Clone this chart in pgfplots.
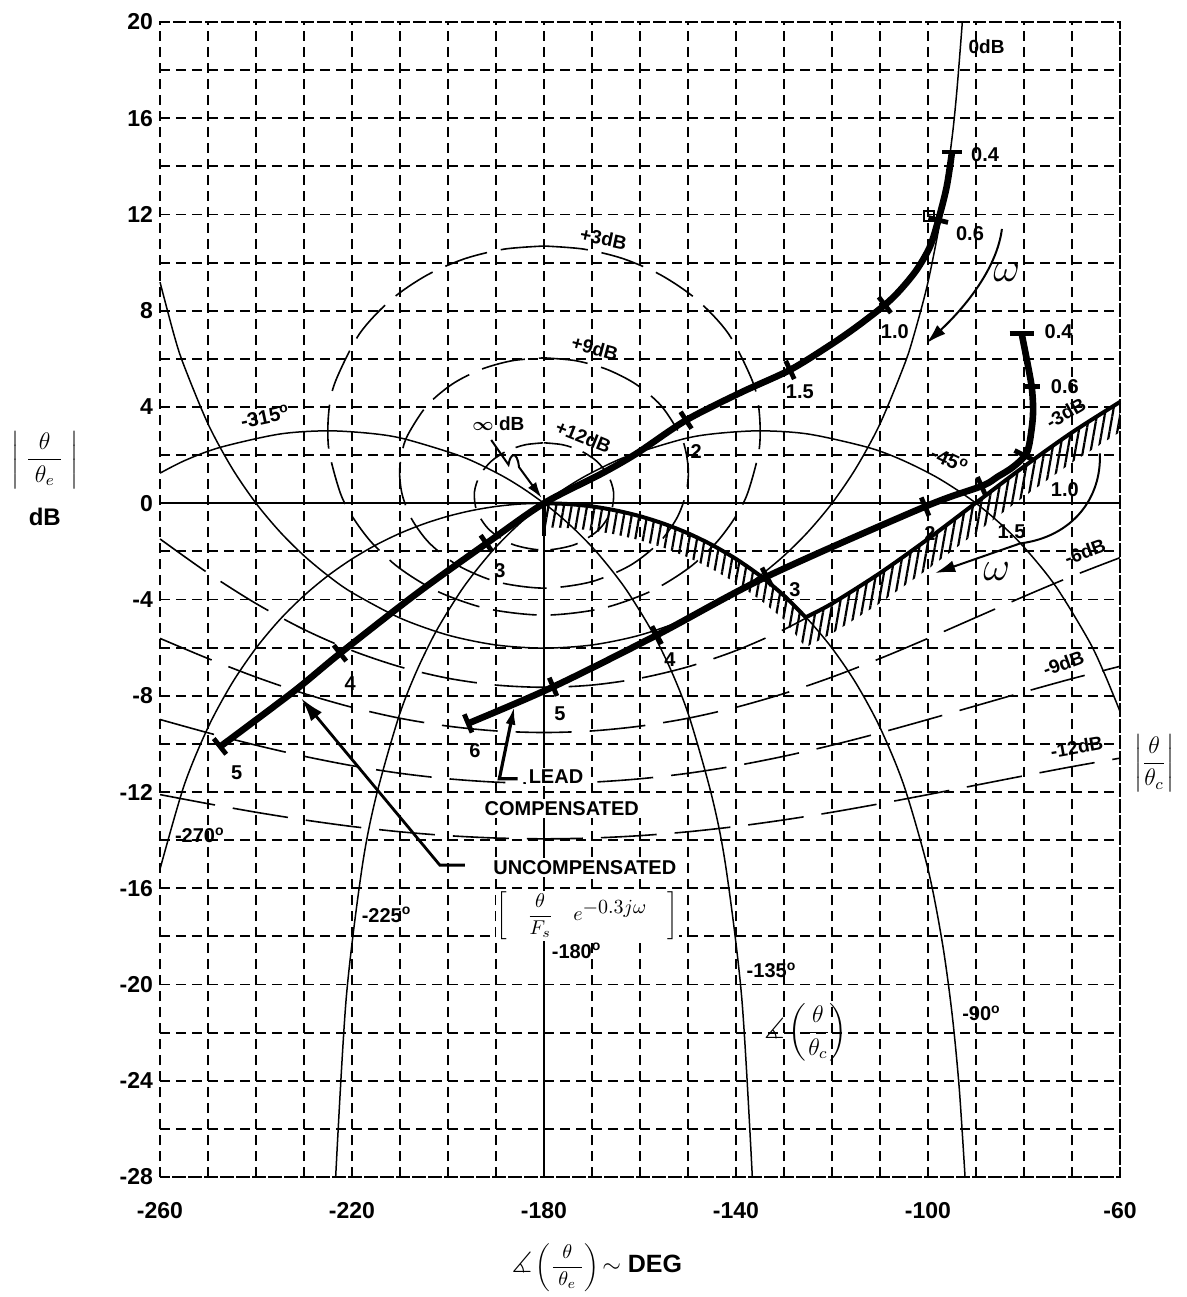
\documentclass[border=0pt]{standalone}
\usepackage{amsmath,amssymb}
\usepackage{fontspec}
\setmainfont{Liberation Sans}
\usepackage{pgfplots}
\pgfplotsset{compat=1.18}
\usetikzlibrary{patterns.meta,arrows.meta}
\tikzset{
  thincont/.style={black, line width=0.75pt, smooth},
  mcont/.style={black, line width=0.8pt, smooth, dash pattern=on 22pt off 7pt},
  thickcurve/.style={black, line width=3.3pt, smooth, line join=round},
  tickmark/.style={black, line width=2.4pt},
  lbl/.style={font=\fontsize{9.5}{11}\selectfont\bfseries, inner sep=1pt},
  flbl/.style={font=\fontsize{10}{12}\selectfont\bfseries, inner sep=1pt},
  blbl/.style={font=\fontsize{10}{12}\selectfont\bfseries, fill=white, inner sep=1.2pt},
}
\begin{document}
\begin{tikzpicture}
\path[use as bounding box] (-80pt,-60pt) rectangle (513.5pt,588.5pt);
\begin{axis}[
  at={(0pt,0pt)}, anchor=south west,
  scale only axis, width=480pt, height=577.5pt,
  xmin=-260, xmax=-60, ymin=-28, ymax=20,
  clip=false,
  xtick={-260,-220,-180,-140,-100,-60},
  xticklabels={-260,-220,-180,-140,-100,-60},
  ytick={-28,-24,-20,-16,-12,-8,-4,0,4,8,12,16,20},
  yticklabels={-28,-24,-20,-16,-12,-8,-4,0,4,8,12,16,20},
  minor xtick={-250,-240,-230,-210,-200,-190,-170,-160,-150,-130,-120,-110,-90,-80,-70},
  minor ytick={-26,-22,-18,-14,-10,-6,-2,2,6,10,14,18},
  grid=both,
  major grid style={black, line width=0.9pt, dash pattern=on 5pt off 3pt},
  minor grid style={black, line width=0.9pt, dash pattern=on 5pt off 3pt},
  axis line style={black, line width=0.9pt, dash pattern=on 5pt off 3pt},
  major tick length=0pt, minor tick length=0pt,
  ticklabel style={font=\fontsize{11.5}{13}\selectfont\bfseries},
  xticklabel style={yshift=-9pt},
]
% solid reference lines
\addplot[black, line width=0.8pt] coordinates {(-260,0) (-60,0)};
\addplot[black, line width=0.8pt] coordinates {(-180,0) (-180,-28)};

% ---- constant closed-loop magnitude contours (dashed) ----
% +12 dB
\addplot[mcont, dash pattern=on 14pt off 6pt] coordinates {
(-180,2.512) (-176.02,2.427) (-172.29,2.173) (-169.06,1.753) (-166.67,1.174) (-165.50,0.459)
(-166.03,-0.340) (-168.70,-1.121) (-173.58,-1.718) (-180,-1.947) (-186.42,-1.718) (-191.30,-1.121)
(-193.97,-0.340) (-194.50,0.459) (-193.33,1.174) (-190.94,1.753) (-187.71,2.173) (-183.98,2.427) (-180,2.512)};
% "+9 dB"
\addplot[mcont] coordinates {
(-180,6.041) (-173.35,5.923) (-166.90,5.564) (-160.87,4.949) (-155.58,4.051) (-151.61,2.835)
(-150.39,2.095) (-149.92,1.263) (-150.48,0.344) (-152.40,-0.645) (-156.11,-1.653) (-162.05,-2.583)
(-170.25,-3.269) (-180,-3.527) (-189.75,-3.269) (-197.95,-2.583) (-203.89,-1.653) (-207.60,-0.645)
(-209.52,0.344) (-210.08,1.263) (-209.61,2.095) (-208.39,2.835) (-204.42,4.051) (-199.13,4.949)
(-193.10,5.564) (-186.65,5.923) (-180,6.041)};
% +3 dB
\addplot[mcont] coordinates {
(-180,10.690) (-171.73,10.561) (-163.56,10.167) (-155.64,9.483) (-148.17,8.464) (-141.52,7.029)
(-136.49,5.034) (-135.14,3.757) (-135.17,2.238) (-137.55,0.435) (-140.14,-0.575) (-144.12,-1.637)
(-149.91,-2.702) (-157.91,-3.673) (-168.18,-4.383) (-180,-4.650) (-191.82,-4.383) (-202.09,-3.673)
(-210.09,-2.702) (-215.88,-1.637) (-219.86,-0.575) (-222.45,0.435) (-224.83,2.238) (-224.86,3.757)
(-223.51,5.034) (-218.48,7.029) (-211.83,8.464) (-204.36,9.483) (-196.44,10.167) (-188.27,10.561) (-180,10.690)};
% -3 dB
\addplot[mcont, dash pattern=on 28pt off 9pt] coordinates {
(-260,-1.484) (-250,-2.902) (-240,-4.168) (-230,-5.247) (-220,-6.123) (-210,-6.797) (-200,-7.273)
(-190,-7.556) (-180,-7.649) (-170,-7.556) (-160,-7.273) (-150,-6.797) (-140,-6.123) (-130,-5.247)
(-120,-4.168) (-110,-2.902) (-100,-1.484) (-90,0.021) (-80,1.525) (-70,2.943) (-60,4.210)};
% -6 dB
\addplot[mcont, dash pattern=on 28pt off 9pt] coordinates {
(-260,-5.616) (-250,-6.453) (-240,-7.225) (-230,-7.907) (-220,-8.480) (-210,-8.935) (-200,-9.263)
(-190,-9.462) (-180,-9.528) (-170,-9.462) (-160,-9.263) (-150,-8.935) (-140,-8.480) (-130,-7.907)
(-120,-7.225) (-110,-6.453) (-100,-5.616) (-90,-4.744) (-80,-3.872) (-70,-3.034) (-60,-2.262)};
% -9 dB
\addplot[mcont, dash pattern=on 28pt off 9pt] coordinates {
(-260,-8.987) (-250,-9.540) (-240,-10.054) (-230,-10.514) (-220,-10.907) (-210,-11.222) (-200,-11.451)
(-190,-11.591) (-180,-11.637) (-170,-11.591) (-160,-11.451) (-150,-11.222) (-140,-10.907) (-130,-10.514)
(-120,-10.054) (-110,-9.540) (-100,-8.987) (-90,-8.415) (-80,-7.843) (-70,-7.291) (-60,-6.777)};
% -12 dB
\addplot[mcont, dash pattern=on 28pt off 9pt] coordinates {
(-260,-12.108) (-250,-12.486) (-240,-12.841) (-230,-13.159) (-220,-13.433) (-210,-13.653) (-200,-13.814)
(-190,-13.913) (-180,-13.946) (-170,-13.913) (-160,-13.814) (-150,-13.653) (-140,-13.433) (-130,-13.159)
(-120,-12.841) (-110,-12.486) (-100,-12.108) (-90,-11.716) (-80,-11.326) (-70,-10.947) (-60,-10.593)};
% 0 dB (solid)
\addplot[thincont] coordinates {
(-260,9.19) (-257,6.94) (-255,5.72) (-250,3.30) (-245,1.46) (-240,0) (-235,-1.19) (-230,-2.18) (-225,-3.01)
(-220,-3.71) (-210,-4.77) (-200,-5.48) (-190,-5.89) (-180,-6.02) (-170,-5.89) (-160,-5.48) (-150,-4.77)
(-140,-3.71) (-135,-3.01) (-130,-2.18) (-125,-1.19) (-120,0) (-115,1.46) (-110,3.30) (-105,5.72) (-103,6.94)
(-100,9.19) (-97,12.26) (-95,15.17) (-94,17.11) (-93,19.60) (-92.87,20)};

% ---- constant closed-loop phase contours (solid) ----
% -90
\addplot[thincont] coordinates {
(-180,0) (-175,-0.033) (-170,-0.133) (-165,-0.301) (-160,-0.540) (-155,-0.855) (-150,-1.249) (-145,-1.733)
(-140,-2.315) (-135,-3.010) (-130,-3.839) (-125,-4.828) (-120,-6.021) (-115,-7.481) (-110,-9.319)
(-105,-11.740) (-100,-15.207) (-97,-18.28) (-95,-21.194) (-93.5,-24.29) (-92.28,-28)};
% -270
\addplot[thincont] coordinates {
(-180,0) (-185,-0.033) (-190,-0.133) (-195,-0.301) (-200,-0.540) (-205,-0.855) (-210,-1.249) (-215,-1.733)
(-220,-2.315) (-225,-3.010) (-230,-3.839) (-235,-4.828) (-240,-6.021) (-245,-7.481) (-250,-9.319)
(-255,-11.740) (-260,-15.207)};
% -135
\addplot[thincont] coordinates {
(-180,0) (-178.04,-0.307) (-176.22,-0.612) (-172.94,-1.215) (-169.20,-1.99) (-165.36,-2.92) (-162.24,-3.78)
(-157.5,-5.33) (-153.32,-7.04) (-149.64,-8.94) (-144.93,-12.26) (-142.06,-15.19) (-138.78,-20.61) (-136.6,-28)};
% -225
\addplot[thincont] coordinates {
(-180,0) (-181.96,-0.307) (-183.78,-0.612) (-187.06,-1.215) (-190.80,-1.99) (-194.64,-2.92) (-197.76,-3.78)
(-202.5,-5.33) (-206.68,-7.04) (-210.36,-8.94) (-215.07,-12.26) (-217.94,-15.19) (-221.22,-20.61) (-223.4,-28)};
% -45
\addplot[thincont] coordinates {
(-180,0) (-175.65,0.612) (-170.65,1.208) (-162.86,1.94) (-151.32,2.653) (-144.54,2.889) (-135,3.01)
(-124.88,2.874) (-112.5,2.32) (-105.26,1.784) (-97.48,0.998) (-89.42,-0.088) (-81.39,-1.526)
(-73.68,-3.37) (-66.52,-5.70) (-63.21,-7.095) (-60,-8.65)};
% -315
\addplot[thincont] coordinates {
(-180,0) (-184.35,0.612) (-189.35,1.208) (-197.14,1.94) (-208.68,2.653) (-215.46,2.889) (-225,3.01)
(-235.12,2.874) (-247.5,2.32) (-254.74,1.784) (-260,1.25)};

% ---- hatched boundary ----
\addplot[draw=none, pattern={Lines[angle=80, distance=3.8pt, line width=1.1pt]}] coordinates {
(-180,0) (-175,-0.033) (-170,-0.133) (-165,-0.301) (-160,-0.540) (-155,-0.855) (-150,-1.249)
(-145,-1.733) (-140,-2.315) (-135,-3.010) (-130,-3.839) (-125.5,-4.74) (-120,-4.168) (-110,-2.902)
(-100,-1.484) (-90,0.021) (-80,1.525) (-70,2.943) (-60,4.210)
(-60,2.96) (-70,1.693) (-80,0.275) (-90,-1.229) (-100,-2.734) (-110,-4.152) (-120,-5.418) (-125.5,-5.99)
(-130,-4.839) (-135,-4.01) (-140,-3.315) (-145,-2.733) (-150,-2.249) (-155,-1.855) (-160,-1.54)
(-165,-1.301) (-170,-1.133) (-175,-1.033) (-180,-1.0) (-180,0)};
\addplot[black, line width=2pt, smooth] coordinates {
(-180,0) (-175,-0.033) (-170,-0.133) (-165,-0.301) (-160,-0.540) (-155,-0.855) (-150,-1.249)
(-145,-1.733) (-140,-2.315) (-135,-3.010) (-130,-3.839) (-125.5,-4.74)};
\addplot[black, line width=2pt, smooth] coordinates {
(-125.5,-4.74) (-120,-4.168) (-110,-2.902) (-100,-1.484) (-90,0.021) (-80,1.525) (-70,2.943) (-60,4.210)};
\addplot[black, line width=2.2pt] coordinates {(-180,0) (-180,-1.35)};

% ---- uncompensated curve ----
\addplot[thickcurve] coordinates {
(-95.0,14.6) (-96.1,13.16) (-97.85,11.77) (-99.6,10.66) (-102.4,9.69) (-105.8,8.86) (-109,8.24)
(-114.9,7.33) (-120.4,6.57) (-128.75,5.54) (-139,4.6) (-150.4,3.45) (-160.7,2.07) (-168.3,1.2)
(-180,0) (-192,-1.67) (-206.5,-3.75) (-222.5,-6.24) (-232.2,-7.83) (-247.5,-10.12)};
\addplot[tickmark] coordinates {(-97,14.6) (-93,14.6)};
\addplot[tickmark] coordinates {(-99.87,11.87) (-95.83,11.67)};
\addplot[tickmark] coordinates {(-110.27,8.57) (-107.73,7.91)};
\addplot[tickmark] coordinates {(-129.64,5.92) (-127.86,5.16)};
\addplot[tickmark] coordinates {(-151.54,3.80) (-149.26,3.10)};
\addplot[tickmark] coordinates {(-193.2,-1.33) (-190.8,-2.01)};
\addplot[tickmark] coordinates {(-223.8,-5.9) (-221.2,-6.56)};
\addplot[tickmark] coordinates {(-248.8,-9.78) (-246.2,-10.43)};
\addplot[only marks, mark=square, mark size=2.5pt, mark options={line width=1pt}] coordinates {(-99.8,11.95)};

% ---- lead compensated curve ----
\addplot[thickcurve] coordinates {
(-80.5,7.06) (-79.4,5.95) (-78.4,4.84) (-78.1,3.9) (-78.4,3.1) (-79.4,2.1) (-82.2,1.52) (-85.5,1.1)
(-88.85,0.71) (-100.6,-0.14) (-133.6,-3.05) (-156.5,-5.48) (-178.1,-7.63) (-195.8,-9.15)};
\addplot[tickmark] coordinates {(-83,7.06) (-78,7.06)};
\addplot[tickmark] coordinates {(-80,4.84) (-76.6,4.84)};
\addplot[tickmark] coordinates {(-81.97,2.19) (-78.23,1.82)};
\addplot[tickmark] coordinates {(-89.7,1.09) (-88.0,0.33)};
\addplot[tickmark] coordinates {(-101.4,0.24) (-99.8,-0.52)};
\addplot[tickmark] coordinates {(-134.6,-2.68) (-132.6,-3.42)};
\addplot[tickmark] coordinates {(-157.5,-5.11) (-155.5,-5.85)};
\addplot[tickmark] coordinates {(-178.9,-7.25) (-177.3,-8.01)};
\addplot[tickmark] coordinates {(-196.6,-8.77) (-195.0,-9.53)};

% ---- frequency labels ----
\node[flbl] at (axis cs:-88.1,14.47) {0.4};
\node[flbl] at (axis cs:-91.25,11.2) {0.6};
\node[flbl] at (axis cs:-106.9,7.13) {1.0};
\node[flbl] at (axis cs:-126.7,4.63) {1.5};
\node[flbl] at (axis cs:-148.3,2.13) {2};
\node[flbl] at (axis cs:-189.2,-2.78) {3};
\node[flbl] at (axis cs:-220.4,-7.49) {4};
\node[flbl] at (axis cs:-244,-11.2) {5};
\node[flbl] at (axis cs:-72.8,7.13) {0.4};
\node[flbl] at (axis cs:-71.5,4.84) {0.6};
\node[flbl] at (axis cs:-71.5,0.55) {1.0};
\node[flbl] at (axis cs:-82.6,-1.18) {1.5};
\node[flbl] at (axis cs:-99.6,-1.25) {2};
\node[flbl] at (axis cs:-127.7,-3.6) {3};
\node[flbl] at (axis cs:-153.75,-6.5) {4};
\node[flbl] at (axis cs:-176.7,-8.73) {5};
\node[flbl] at (axis cs:-194.4,-10.26) {6};

% ---- contour labels ----
\node[lbl, rotate=-12] at (axis cs:-167.6,11.0) {+3dB};
\node[lbl, rotate=-15] at (axis cs:-169.4,6.44) {+9dB};
\node[lbl, rotate=-22] at (axis cs:-171.8,2.76) {+12dB};
\node[lbl] at (axis cs:-189.5,3.32) {$\boldsymbol{\infty}$ dB};
\node[lbl] at (axis cs:-87.8,18.97) {0dB};
\node[lbl, rotate=30] at (axis cs:-71.3,3.75) {-3dB};
\node[lbl, rotate=20] at (axis cs:-67.3,-2.02) {-6dB};
\node[lbl, rotate=20] at (axis cs:-71.8,-6.65) {-9dB};
\node[lbl, rotate=10] at (axis cs:-69.0,-10.15) {-12dB};
\node[flbl, rotate=12] at (axis cs:-238.1,3.6) {-315\textsuperscript{o}};
\node[flbl, rotate=-25] at (axis cs:-95.5,1.8) {-45\textsuperscript{o}};
\node[flbl] at (axis cs:-251.7,-13.8) {-270\textsuperscript{o}};
\node[flbl] at (axis cs:-212.8,-17.1) {-225\textsuperscript{o}};
\node[flbl] at (axis cs:-173.2,-18.6) {-180\textsuperscript{o}};
\node[flbl] at (axis cs:-132.6,-19.4) {-135\textsuperscript{o}};
\node[flbl] at (axis cs:-88.85,-21.2) {-90\textsuperscript{o}};
\node at (axis cs:-125.45,-22.0) {{\Large$\measuredangle$}\,\large$\left(\dfrac{\theta}{\theta_c}\right)$};

% ---- annotations ----
\node[blbl] at (axis cs:-177.5,-11.38) {LEAD};
\node[blbl] at (axis cs:-176.3,-12.69) {COMPENSATED};
\node[blbl] at (axis cs:-171.5,-15.14) {UNCOMPENSATED};
\node[fill=white, inner sep=0.5pt] at (axis cs:-171.0,-17.15) {$\left[\quad\dfrac{\theta}{F_s}\quad e^{\textstyle -0.3j\omega}\quad\right]$};
\draw[line width=1.6pt, -{Latex[length=9pt,width=5pt]}] (axis cs:-185.5,-11.45) -- (axis cs:-189.3,-11.45) -- (axis cs:-186.2,-8.45);
\draw[line width=1.4pt, -{Latex[length=12pt,width=7pt]}] (axis cs:-196.5,-15.04) -- (axis cs:-201.7,-15.04) -- (axis cs:-230.6,-8.1);
\draw[line width=1pt, -{Latex[length=8pt,width=5pt]}] (axis cs:-191,2.63) -- (axis cs:-187.4,1.6)
   .. controls (axis cs:-187,2.1) and (axis cs:-185.6,2.2) .. (axis cs:-185.2,1.5) -- (axis cs:-180.5,0.22);
\draw[line width=1pt, -{Latex[length=10pt,width=6pt]}] (axis cs:-84.6,11.4)
   .. controls (axis cs:-85.6,9.8) and (axis cs:-92,8.2) .. (axis cs:-100.3,6.65);
\draw[line width=1pt, -{Latex[length=10pt,width=6pt]}] (axis cs:-64.2,2.07)
   .. controls (axis cs:-63.8,0.2) and (axis cs:-70,-1.4) .. (axis cs:-80.8,-1.67) -- (axis cs:-98.5,-2.9);
\node at (axis cs:-83.6,9.57) {\fontsize{20}{20}\selectfont$\omega$};
\node at (axis cs:-85.7,-2.85) {\fontsize{20}{20}\selectfont$\omega$};

% ---- axis titles ----
\node at (axis cs:-284,1.8) {\large$\left|\;\dfrac{\theta}{\;\theta_e\;}\;\right|$};
\node[font=\fontsize{12}{14}\selectfont\bfseries] at (axis cs:-284,-0.57) {dB};
\node[inner sep=0pt] at (axis cs:-52.9,-10.81) {\large$\left|\dfrac{\theta}{\theta_c}\right|$};
\node at (axis cs:-169,-31.75) {{\Large$\measuredangle$}\,$\left(\dfrac{\theta}{\;\theta_e\;}\right)$\,{\fontsize{12.5}{14}\selectfont\bfseries$\sim$ DEG}};
\end{axis}
\end{tikzpicture}
\end{document}
